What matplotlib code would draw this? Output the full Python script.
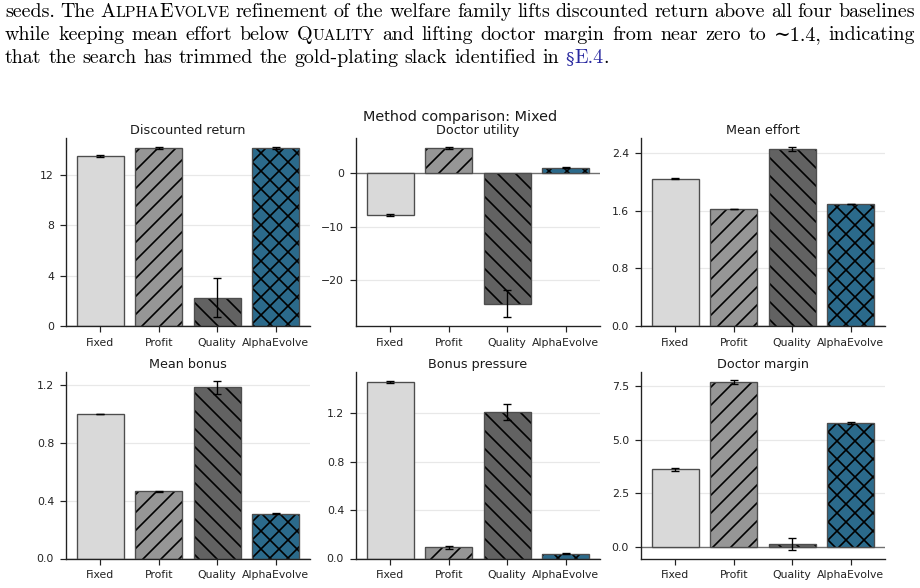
import matplotlib
matplotlib.use("Agg")
import matplotlib.pyplot as plt
from matplotlib.transforms import IdentityTransform
import numpy as np

# ---- paper text above the figure ----
paper_lines = [
    [("seeds. The ", "rm"), ("AlphaEvolve", "sc"),
     (" refinement of the welfare family lifts discounted return above all four baselines", "rm")],
    [("while keeping mean effort below ", "rm"), ("Quality", "sc"),
     (" and lifting doctor margin from near zero to \u223c1.4, indicating", "rm")],
    [("that the search has trimmed the gold-plating slack identified in ", "rm"),
     ("\u00a7E.4", "link"), (".", "rm")],
]
justified = [True, True, False]

# ---- chart data ----
methods = ["Fixed", "Profit", "Quality", "AlphaEvolve"]
panel_titles = ["Discounted return", "Doctor utility", "Mean effort",
                "Mean bonus", "Bonus pressure", "Doctor margin"]

discounted_return = [13.48, 14.10, 2.25, 14.10]
discounted_return_err = [0.05, 0.10, 1.55, 0.10]
doctor_utility = [-7.86, 4.57, -24.35, 0.93]
doctor_utility_err = [0.15, 0.25, 2.50, 0.15]
mean_effort = [2.047, 1.625, 2.457, 1.695]
mean_effort_err = [0.008, 0.005, 0.030, 0.003]
mean_bonus = [1.001, 0.466, 1.184, 0.311]
mean_bonus_err = [0.002, 0.003, 0.045, 0.003]
bonus_pressure = [1.461, 0.091, 1.208, 0.041]
bonus_pressure_err = [0.007, 0.012, 0.065, 0.006]
doctor_margin = [3.63, 7.69, 0.14, 5.79]
doctor_margin_err = [0.07, 0.08, 0.29, 0.03]

panel_values = [discounted_return, doctor_utility, mean_effort,
                mean_bonus, bonus_pressure, doctor_margin]
panel_errors = [discounted_return_err, doctor_utility_err, mean_effort_err,
                mean_bonus_err, bonus_pressure_err, doctor_margin_err]
panel_yticks = [[0, 4, 8, 12], [-20, -10, 0], [0.0, 0.8, 1.6, 2.4],
                [0.0, 0.4, 0.8, 1.2], [0.0, 0.4, 0.8, 1.2], [0.0, 2.5, 5.0, 7.5]]
panel_fmt = ["{:.0f}", "{:.0f}", "{:.1f}", "{:.1f}", "{:.1f}", "{:.1f}"]

bar_colors = ["#d9d9d9", "#969696", "#626262", "#2b6a8b"]
bar_hatches = ["", "//", "\\\\", "xx"]

DPI = 108
W, H = 920, 588

plt.rcParams["font.family"] = "DejaVu Sans"
plt.rcParams["hatch.linewidth"] = 1.1
plt.rcParams["axes.unicode_minus"] = True

fig = plt.figure(figsize=(W / DPI, H / DPI), dpi=DPI)

# ---- paper text ----
PAPER_PT = 13.35
SC_SCALE = 0.78
LINK = "#2a2aa0"
CM = ["cmr10", "DejaVu Serif"]
SYM = ["DejaVu Serif"]
ident = IdentityTransform()


def split_words(spec):
    words = [[]]
    for txt, style in spec:
        color = LINK if style == "link" else "black"
        for ch in txt:
            if ch == " ":
                if words[-1]:
                    words.append([])
                continue
            if style == "sc" and ch.islower():
                seg = (ch.upper(), SC_SCALE, color, CM)
            elif ch in "\u00a7":
                seg = (ch, 0.85, color, SYM)
            else:
                seg = (ch, 1.0, color, CM)
            cur = words[-1]
            if cur and cur[-1][1:] == seg[1:]:
                cur[-1] = (cur[-1][0] + seg[0],) + seg[1:]
            else:
                cur.append(seg)
    return [w for w in words if w]


renderer = fig.canvas.get_renderer()
x_left, x_right = 5, 915
baselines = [17, 40, 63]
space_w = 0.333 * PAPER_PT * DPI / 72

for spec, base, just in zip(paper_lines, baselines, justified):
    words = split_words(spec)
    placed = []
    for word in words:
        segs = []
        wx = 0.0
        for txt, sc, col, fam in word:
            t = fig.text(0, H - base, txt, transform=ident, fontsize=PAPER_PT * sc,
                         family=fam, color=col, va="baseline")
            segs.append((t, wx))
            wx += t.get_window_extent(renderer).width
        placed.append((segs, wx))
    total = sum(p[1] for p in placed)
    gap = (x_right - x_left - total) / (len(placed) - 1) if just else space_w
    x = x_left
    for segs, wx in placed:
        for t, off in segs:
            t.set_x(x + off)
        x += wx + gap

# ---- chart ----
col_left = [66, 356, 641]
ax_w = 244
row_box = [(138, 326), (372, 558.5)]

fig.text(0.5, 1 - 117 / H, "Method comparison: Mixed", ha="center", va="center",
         fontsize=9.6, color="#1a1a1a")

x = np.arange(len(methods))
for i in range(6):
    r, c = divmod(i, 3)
    top, bot = row_box[r]
    ax = fig.add_axes([col_left[c] / W, 1 - bot / H, ax_w / W, (bot - top) / H])
    vals = panel_values[i]
    errs = panel_errors[i]
    ax.bar(x, vals, width=0.8, color=bar_colors, hatch=bar_hatches,
           edgecolor="black", linewidth=0, zorder=2)
    ax.bar(x, vals, width=0.8, fill=False, edgecolor="#4d4d4d", linewidth=0.9,
           yerr=errs, capsize=2.5,
           error_kw=dict(ecolor="black", elinewidth=0.9, capthick=0.9), zorder=3)
    ax.axhline(0, color="#707070", linewidth=0.9, zorder=1)
    ax.set_axisbelow(True)
    ax.yaxis.grid(True, color="#e8e8e8", linewidth=0.8)
    ax.set_yticks(panel_yticks[i])
    ax.set_yticklabels([panel_fmt[i].format(v).replace("-", "\u2212") for v in panel_yticks[i]])
    ax.set_xticks(x)
    ax.set_xticklabels(methods)
    ax.tick_params(labelsize=7.25, length=4, pad=4, width=0.8, colors="#222222")
    ax.set_title(panel_titles[i], fontsize=8.5, pad=2.5, color="#1a1a1a")
    for s in ("top", "right"):
        ax.spines[s].set_visible(False)
    for s in ("left", "bottom"):
        ax.spines[s].set_color("#222222")
        ax.spines[s].set_linewidth(0.9)

fig.savefig("out.png", dpi=DPI)
